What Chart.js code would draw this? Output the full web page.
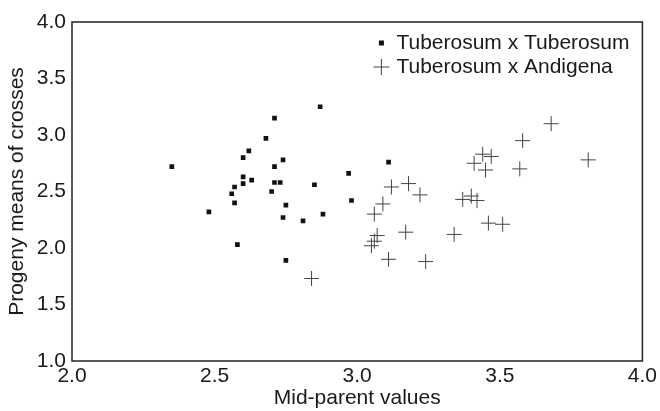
<!DOCTYPE html>
<html>
<head>
<meta charset="utf-8">
<script src="https://cdn.jsdelivr.net/npm/chart.js@4.4.2/dist/chart.umd.min.js"></script>
<style>
  html, body { margin: 0; padding: 0; background: #fff; }
  #wrap { width: 660px; height: 411px; }
</style>
</head>
<body>
<div id="wrap"><canvas id="scatter" width="660" height="411"></canvas></div>
<script>
// Tuberosum x Tuberosum (squares)
const ttX = [2.87, 2.71, 2.68, 2.62, 2.60, 2.74, 2.35, 2.71, 2.97, 2.60, 2.63, 2.60, 2.71, 2.73,
  2.85, 2.57, 2.56, 2.70, 2.98, 2.57, 2.75, 2.48, 2.74, 2.88, 2.81, 2.58, 2.75, 3.11];
const ttY = [3.25, 3.15, 2.97, 2.86, 2.80, 2.78, 2.72, 2.72, 2.66, 2.63, 2.60, 2.57, 2.58, 2.58,
  2.56, 2.54, 2.48, 2.50, 2.42, 2.40, 2.38, 2.32, 2.27, 2.30, 2.24, 2.03, 1.89, 2.76];

// Tuberosum x Andigena (crosses)
const taX = [2.84, 3.12, 3.18, 3.22, 3.09, 3.06, 3.07, 3.06, 3.05, 3.17, 3.11, 3.24, 3.34,
  3.37, 3.40, 3.42, 3.68, 3.58, 3.81, 3.57, 3.46, 3.51, 3.41, 3.44, 3.47, 3.45];
const taY = [1.73, 2.54, 2.57, 2.47, 2.39, 2.30, 2.11, 2.06, 2.02, 2.14, 1.90, 1.88, 2.12,
  2.43, 2.46, 2.42, 3.10, 2.95, 2.78, 2.70, 2.22, 2.21, 2.75, 2.83, 2.81, 2.69];

const xTicks = [2.0, 2.5, 3.0, 3.5, 4.0];
const xTickLabels = ['2.0', '2.5', '3.0', '3.5', '4.0'];
const yTicks = [1.0, 1.5, 2.0, 2.5, 3.0, 3.5, 4.0];
const yTickLabels = ['1.0', '1.5', '2.0', '2.5', '3.0', '3.5', '4.0'];

const seriesLabels = ['Tuberosum x Tuberosum', 'Tuberosum x Andigena'];

const toPoints = (xs, ys) => xs.map((x, i) => ({x: x, y: ys[i]}));
const FONT = 'Liberation Sans, Arial, Helvetica, sans-serif';
const TEXT = '#1a1a1a';

// box round the plot area
const frame = {
  id: 'frame',
  afterDraw(chart) {
    const a = chart.chartArea;
    const ctx = chart.ctx;
    ctx.save();
    ctx.strokeStyle = '#222';
    ctx.lineWidth = 1.5;
    ctx.strokeRect(a.left, a.top, a.right - a.left, a.bottom - a.top);
    ctx.restore();
  }
};

// legend inside the plot, top right
const insideLegend = {
  id: 'insideLegend',
  afterDraw(chart) {
    const a = chart.chartArea;
    const ctx = chart.ctx;
    const mx = a.right - 261;
    const rows = [a.top + 21, a.top + 45];
    ctx.save();
    ctx.font = '21px ' + FONT;
    ctx.textBaseline = 'middle';
    chart.data.datasets.forEach((ds, i) => {
      const y = rows[i];
      if (ds.pointStyle === 'rect') {
        ctx.fillStyle = '#111';
        ctx.fillRect(mx - 2.5, y - 2.5, 5, 5);
      } else {
        ctx.strokeStyle = '#444';
        ctx.lineWidth = 1;
        ctx.beginPath();
        ctx.moveTo(mx - 8, y);
        ctx.lineTo(mx + 8, y);
        ctx.moveTo(mx, y - 8);
        ctx.lineTo(mx, y + 8);
        ctx.stroke();
      }
      ctx.fillStyle = TEXT;
      ctx.fillText(ds.label, mx + 15, y);
    });
    ctx.restore();
  }
};

new Chart(document.getElementById('scatter'), {
  type: 'scatter',
  data: {
    datasets: [
      {
        label: seriesLabels[0],
        data: toPoints(ttX, ttY),
        pointStyle: 'rect',
        pointRadius: 3.3,
        backgroundColor: '#111',
        borderColor: '#111',
        borderWidth: 0
      },
      {
        label: seriesLabels[1],
        data: toPoints(taX, taY),
        pointStyle: 'cross',
        pointRadius: 7.5,
        borderColor: '#444',
        borderWidth: 1
      }
    ]
  },
  options: {
    responsive: false,
    animation: false,
    layout: {padding: {top: 22, right: 16, left: 0, bottom: 0}},
    plugins: {
      legend: {display: false},
      tooltip: {enabled: false}
    },
    scales: {
      x: {
        type: 'linear',
        min: 2,
        max: 4,
        afterBuildTicks: s => { s.ticks = xTicks.map(v => ({value: v})); },
        afterFit: s => { s.height = 50; },
        grid: {display: false, drawTicks: false},
        border: {display: false},
        ticks: {
          padding: 3,
          color: TEXT,
          font: {family: FONT, size: 21},
          callback: (v, i) => xTickLabels[i]
        },
        title: {
          display: true,
          text: 'Mid-parent values',
          color: TEXT,
          font: {family: FONT, size: 21},
          padding: {top: 0, bottom: 0}
        }
      },
      y: {
        type: 'linear',
        min: 1,
        max: 4,
        afterBuildTicks: s => { s.ticks = yTicks.map(v => ({value: v})); },
        afterFit: s => { s.width = 72; },
        grid: {display: false, drawTicks: false},
        border: {display: false},
        ticks: {
          padding: 6,
          color: TEXT,
          font: {family: FONT, size: 21},
          callback: (v, i) => yTickLabels[i]
        },
        title: {
          display: true,
          text: 'Progeny means of crosses',
          color: TEXT,
          font: {family: FONT, size: 21},
          padding: {top: 5, bottom: 0}
        }
      }
    }
  },
  plugins: [frame, insideLegend]
});
</script>
</body>
</html>
